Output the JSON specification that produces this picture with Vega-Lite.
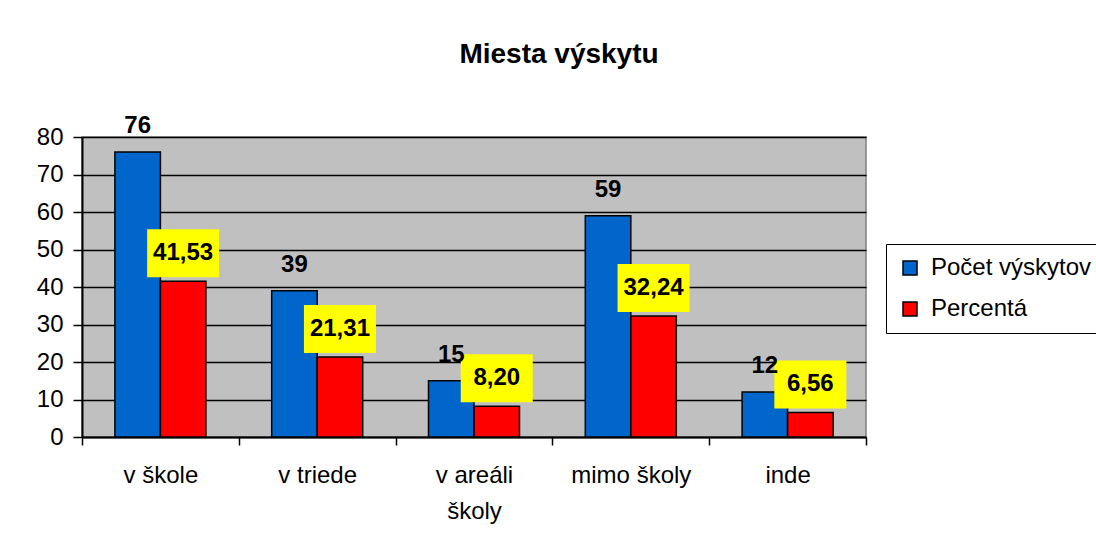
{
  "$schema": "https://vega.github.io/schema/vega-lite/v6.json",
  "autosize": {"type": "none"},
  "width": 784,
  "height": 300,
  "padding": {"left": 82, "top": 137, "right": 230, "bottom": 108},
  "background": "white",
  "title": {
    "text": "Miesta výskytu",
    "anchor": "middle",
    "frame": "group",
    "dx": 85,
    "offset": 45,
    "font": "Liberation Sans",
    "fontSize": 28,
    "fontWeight": "bold",
    "color": "black"
  },
  "config": {
    "locale": {"number": {"decimal": ",", "thousands": " ", "grouping": [3], "currency": ["", " €"]}},
    "font": "Liberation Sans",
    "view": {"fill": "#C0C0C0", "stroke": "#808080", "strokeWidth": 1.5}
  },
  "data": {
    "values": [
      {"miesto": "v škole", "serie": "Počet výskytov", "hodnota": 76},
      {"miesto": "v škole", "serie": "Percentá", "hodnota": 41.53},
      {"miesto": "v triede", "serie": "Počet výskytov", "hodnota": 39},
      {"miesto": "v triede", "serie": "Percentá", "hodnota": 21.31},
      {"miesto": "v areáli školy", "serie": "Počet výskytov", "hodnota": 15},
      {"miesto": "v areáli školy", "serie": "Percentá", "hodnota": 8.2},
      {"miesto": "mimo školy", "serie": "Počet výskytov", "hodnota": 59},
      {"miesto": "mimo školy", "serie": "Percentá", "hodnota": 32.24},
      {"miesto": "inde", "serie": "Počet výskytov", "hodnota": 12},
      {"miesto": "inde", "serie": "Percentá", "hodnota": 6.56}
    ]
  },
  "encoding": {
    "x": {
      "field": "miesto",
      "type": "nominal",
      "sort": ["v škole", "v triede", "v areáli školy", "mimo školy", "inde"],
      "scale": {"paddingInner": 0, "paddingOuter": 0},
      "axis": {
        "title": null,
        "labelAngle": 0,
        "tickBand": "extent",
        "tickSize": 8,
        "tickColor": "black",
        "tickWidth": 1.5,
        "domainColor": "black",
        "domainWidth": 2,
        "labelFontSize": 24,
        "labelColor": "black",
        "labelPadding": 18,
        "labelLineHeight": 36,
        "grid": false,
        "labelExpr": "datum.label == 'v areáli školy' ? ['v areáli', 'školy'] : datum.label"
      }
    },
    "xOffset": {
      "field": "serie",
      "type": "nominal",
      "sort": ["Počet výskytov", "Percentá"],
      "scale": {"paddingInner": 0, "paddingOuter": 0.723}
    },
    "y": {
      "field": "hodnota",
      "type": "quantitative",
      "scale": {"domain": [0, 80], "nice": false},
      "axis": {
        "title": null,
        "values": [0, 10, 20, 30, 40, 50, 60, 70, 80],
        "tickSize": 9,
        "tickColor": "black",
        "tickWidth": 1.5,
        "domainColor": "black",
        "domainWidth": 2,
        "gridColor": "black",
        "gridWidth": 1.5,
        "labelFontSize": 24,
        "labelColor": "black",
        "labelPadding": 10
      }
    }
  },
  "layer": [
    {
      "mark": {"type": "bar", "stroke": "black", "strokeWidth": 1.5},
      "encoding": {
        "color": {
          "field": "serie",
          "type": "nominal",
          "sort": ["Počet výskytov", "Percentá"],
          "scale": {"domain": ["Počet výskytov", "Percentá"], "range": ["#0066CC", "#FF0000"]},
          "legend": {
            "title": null,
            "orient": "none",
            "legendX": 804,
            "legendY": 107,
            "strokeColor": "black",
            "fillColor": "white",
            "padding": 12,
            "symbolType": "square",
            "symbolSize": 196,
            "symbolStrokeColor": "black",
            "symbolStrokeWidth": 1.5,
            "symbolOpacity": 1,
            "labelFontSize": 24,
            "labelColor": "black",
            "labelOffset": 9,
            "labelLimit": 300,
            "rowPadding": 17
          }
        }
      }
    },
    {
      "transform": [{"filter": "datum.serie == 'Percentá'"}],
      "mark": {
        "type": "point",
        "shape": "M-1,-1.444H1V-0.111H-1Z",
        "size": 5184,
        "filled": true,
        "fill": "#FFFF00",
        "opacity": 1,
        "strokeWidth": 0
      }
    },
    {
      "transform": [{"filter": "datum.serie == 'Počet výskytov'"}],
      "mark": {"type": "text", "dy": -26, "baseline": "middle", "fontSize": 24, "fontWeight": "bold", "color": "black"},
      "encoding": {"text": {"field": "hodnota", "type": "quantitative", "format": "d"}}
    },
    {
      "transform": [{"filter": "datum.serie == 'Percentá'"}],
      "mark": {"type": "text", "dy": -28, "baseline": "middle", "fontSize": 24, "fontWeight": "bold", "color": "black"},
      "encoding": {"text": {"field": "hodnota", "type": "quantitative", "format": ".2f"}}
    }
  ]
}
